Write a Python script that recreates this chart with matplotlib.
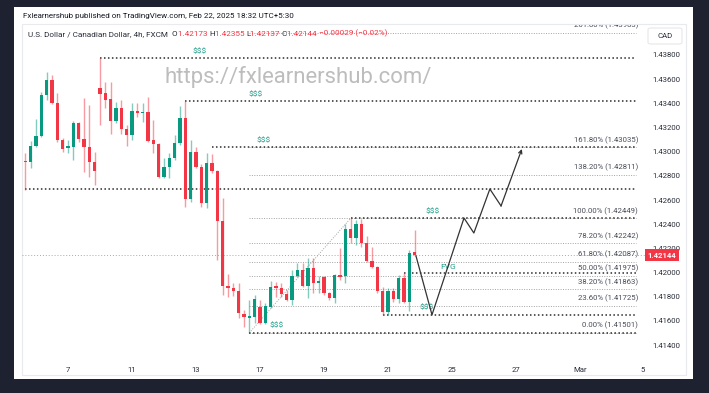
import numpy as np
import matplotlib.pyplot as plt
from matplotlib.patches import Rectangle, FancyBboxPatch
from matplotlib.transforms import blended_transform_factory, Bbox

W, H = 709, 393
DPI = 100
plt.rcParams['font.family'] = ['Roboto', 'DejaVu Sans']

BG = "#1d2130"
UP = "#089981"
DOWN = "#f23645"
TXT = "#2a2e39"
TAG = "#1f9e89"

# 4h bars, index 0 = Feb 7 00:00
bar_idx = np.arange(-8, 66)
opens = [1.42919, 1.42915, 1.43047, 1.43130, 1.43469, 1.43593, 1.43403, 1.43097, 1.43031, 1.43039,
         1.43237, 1.43105, 1.43039, 1.42915, 1.43527, 1.43486, 1.43436, 1.43254, 1.43362, 1.43188,
         1.43138, 1.43337, 1.43320, 1.43329, 1.43097, 1.43064, 1.42790, 1.42873, 1.42948, 1.43072,
         1.43279, 1.42609, 1.42997, 1.42873, 1.42575, 1.42906, 1.42840, 1.42426, 1.41889, 1.41872,
         1.41848, 1.41658, 1.41625, 1.41633, 1.41716, 1.41583, 1.41716, 1.41889, 1.41872, 1.41823,
         1.41773, 1.41971, 1.42021, 1.41889, 1.42037, 1.41914, 1.41963, 1.41831, 1.41790, 1.41980,
         1.41971, 1.42360, 1.42286, 1.42402, 1.42244, 1.42096, 1.42046, 1.41848, 1.41674, 1.41848,
         1.41782, 1.41955, 1.41757, 1.42173]
highs = [1.42989, 1.43088, 1.43270, 1.43494, 1.43659, 1.43634, 1.43486, 1.43113, 1.43097, 1.43254,
         1.43245, 1.43444, 1.43386, 1.42997, 1.43775, 1.43577, 1.43577, 1.43411, 1.43428, 1.43221,
         1.43403, 1.43403, 1.43403, 1.43452, 1.43262, 1.43072, 1.42948, 1.42989, 1.43138, 1.43378,
         1.43419, 1.43097, 1.43039, 1.42898, 1.42989, 1.42981, 1.42848, 1.42617, 1.41988, 1.41914,
         1.41914, 1.41691, 1.41773, 1.41815, 1.41773, 1.41749, 1.41930, 1.41922, 1.41914, 1.41856,
         1.42021, 1.42079, 1.42079, 1.42121, 1.42121, 1.41971, 1.41971, 1.41839, 1.41988, 1.42203,
         1.42402, 1.42449, 1.42435, 1.42443, 1.42302, 1.42211, 1.42054, 1.41881, 1.41872, 1.41872,
         1.41980, 1.41996, 1.42186, 1.42355]
lows = [1.42683, 1.42865, 1.43039, 1.43121, 1.43428, 1.43395, 1.43080, 1.42997, 1.42989, 1.42931,
        1.43080, 1.42832, 1.42790, 1.42724, 1.43221, 1.43362, 1.43146, 1.43237, 1.43146, 1.43047,
        1.43097, 1.43287, 1.43245, 1.43080, 1.42989, 1.42782, 1.42782, 1.42782, 1.42931, 1.43055,
        1.42542, 1.42584, 1.42865, 1.42542, 1.42534, 1.42823, 1.42104, 1.41815, 1.41798, 1.41806,
        1.41625, 1.41550, 1.41501, 1.41583, 1.41575, 1.41575, 1.41707, 1.41798, 1.41798, 1.41765,
        1.41732, 1.41963, 1.41881, 1.41790, 1.41831, 1.41831, 1.41815, 1.41773, 1.41749, 1.41938,
        1.41914, 1.42244, 1.42228, 1.42211, 1.42087, 1.42037, 1.41831, 1.41650, 1.41650, 1.41757,
        1.41749, 1.41749, 1.41683, 1.42137]
closes = [1.42911, 1.43047, 1.43130, 1.43469, 1.43593, 1.43403, 1.43097, 1.43022, 1.43047, 1.43237,
          1.43105, 1.43039, 1.42915, 1.42840, 1.43477, 1.43428, 1.43254, 1.43362, 1.43188, 1.43138,
          1.43337, 1.43320, 1.43329, 1.43088, 1.43064, 1.42790, 1.42873, 1.42948, 1.43072, 1.43279,
          1.42609, 1.42997, 1.42873, 1.42575, 1.42906, 1.42840, 1.42426, 1.41889, 1.41872, 1.41848,
          1.41666, 1.41633, 1.41641, 1.41782, 1.41583, 1.41724, 1.41881, 1.41872, 1.41823, 1.41773,
          1.41971, 1.42021, 1.41889, 1.42037, 1.41914, 1.41930, 1.41831, 1.41790, 1.41980, 1.41963,
          1.42360, 1.42286, 1.42402, 1.42244, 1.42096, 1.42046, 1.41848, 1.41674, 1.41848, 1.41782,
          1.41955, 1.41757, 1.42162, 1.42144]

last_price = 1.42144

# fibonacci levels (ratio label, price) drawn from the swing low bar
fib_labels = ["0.00%", "23.60%", "38.20%", "50.00%", "61.80%", "78.20%",
              "100.00%", "138.20%", "161.80%", "261.80%"]
fib_prices = [1.41501, 1.41725, 1.41863, 1.41975, 1.42087, 1.42242,
              1.42449, 1.42811, 1.43035, 1.43983]
fib_start = 34
fib_anchor_bars = [34, 53]
fib_anchor_prices = [1.41501, 1.42449]

# liquidity lines (black dotted)
liq_start = [6, 22, 27, -8, 53, 63, 59, 34]
liq_prices = [1.43775, 1.43419, 1.43035, 1.42691, 1.42449, 1.41996, 1.41650, 1.41501]
line_end = 106.5

# "$$$" tags
tag_bars = [24.75, 35.25, 36.6, 68.4, 39.2, 67.3]
tag_prices = [1.43775, 1.43419, 1.43035, 1.42449, 1.41501, 1.41650]

# projected path
path_bars = [65.25, 68.25, 74.25, 76.1, 79.1, 81.2, 85.1]
path_prices = [1.42137, 1.41650, 1.42451, 1.42327, 1.42691, 1.42551, 1.43022]

price_ticks = np.round(np.arange(1.414, 1.4381, 0.002), 3)
time_ticks = [0, 12, 24, 36, 48, 60, 72, 84, 96, 108]
time_labels = ["7", "11", "13", "17", "19", "21", "25", "27", "Mar", "5"]


def fx(px):
    return px / W


def fy(py):
    return 1 - py / H


fig = plt.figure(figsize=(W / DPI, H / DPI), dpi=DPI)
fig.patch.set_facecolor(BG)

# white card and inner frame
fig.patches.append(Rectangle((fx(14), fy(379)), fx(693) - fx(14), fy(7) - fy(379),
                             transform=fig.transFigure, facecolor="white", edgecolor="none", zorder=-2))
fig.patches.append(Rectangle((fx(22), fy(375)), fx(686) - fx(22), fy(24) - fy(375),
                             transform=fig.transFigure, facecolor="none", edgecolor="#e9eaee",
                             lw=0.8, zorder=-1))

ax = fig.add_axes([fx(22), fy(360), fx(645) - fx(22), fy(27) - fy(360)])
ax.set_zorder(2)
ax.set_facecolor("none")
ax.set_xlim(-8.625, 108.19)
ax.set_ylim(1.412761, 1.440317)
for s in ax.spines.values():
    s.set_visible(False)

# watermark
ax.text(43.1, 1.43618, "https://fxlearnershub.com/", fontsize=15.9, color="#bdbdbd",
        ha="center", va="center", zorder=1)

# current price line
ax.axhline(last_price, color=DOWN, lw=0.7, ls=(0, (1, 2)), alpha=0.6, zorder=1)

# fib levels (labels clipped at the chart frame top)
frame_clip = Bbox([[0, 0], [645, H - 24.5]])
for lab, p in zip(fib_labels, fib_prices):
    ax.plot([fib_start, line_end], [p, p], color="#a3a3a3", lw=0.7, ls=(0, (1, 1.5)), zorder=2)
    t = ax.annotate(f"{lab} ({p:.5f})", (106.9, p), xytext=(0, 5.3), textcoords="offset points",
                    ha="right", va="center", fontsize=5.6, color="#4a4e59",
                    annotation_clip=False, zorder=3)
    t.set_clip_box(frame_clip)
    t.set_clip_on(True)
ax.plot(fib_anchor_bars, fib_anchor_prices, color="#a3a3a3", lw=0.7, ls=(0, (1, 1.5)), zorder=2)

# liquidity lines
for b, p in zip(liq_start, liq_prices):
    ax.plot([b, line_end], [p, p], color="#2b2b2b", lw=1.1, ls=(0, (1, 1.6)), zorder=3)

for b, p in zip(tag_bars, tag_prices):
    ax.annotate("$$$", (b, p), xytext=(0, 5.2), textcoords="offset points",
                ha="center", va="center", fontsize=6, color=TAG, zorder=4)
ax.text(71.25, 1.42046, "FVG", fontsize=6, color=TAG, ha="center", va="center", zorder=4)

# candles
for i, o, h, l, c in zip(bar_idx, opens, highs, lows, closes):
    col = UP if c >= o else DOWN
    ax.vlines(i, l, h, color=col, lw=1.0, alpha=0.5, zorder=5)
    ax.bar(i, max(abs(c - o), 0.00003), bottom=min(o, c), width=0.68, color=col, zorder=6)

# projection path
ax.plot(path_bars[:-1], path_prices[:-1], color="#333333", lw=0.9, zorder=7)
ax.annotate("", xy=(path_bars[-1], path_prices[-1]), xytext=(path_bars[-2], path_prices[-2]),
            arrowprops=dict(arrowstyle="->", color="#333333", lw=0.9, shrinkA=0, shrinkB=0,
                            mutation_scale=6), zorder=7)

# axes ticks
ax.yaxis.tick_right()
ax.set_yticks(price_ticks)
ax.set_yticklabels([f"{p:.5f}" for p in price_ticks])
ax.tick_params(axis="y", length=0, pad=5, labelsize=5.6, labelcolor=TXT)
ax.set_xticks(time_ticks[:-1])
ax.set_xticklabels(time_labels[:-1])
ax.tick_params(axis="x", length=0, pad=5, labelsize=5.6, labelcolor=TXT)
# last date label is cut by the price scale
t5 = ax.text(time_ticks[-1] - 0.2, -0.031, time_labels[-1],
             transform=blended_transform_factory(ax.transData, ax.transAxes),
             ha="center", va="center", fontsize=5.6, color=TXT)
t5.set_clip_box(Bbox([[0, 0], [644.5, H]]))
t5.set_clip_on(True)

# last price tag
ax.text(1.004, last_price, f"{last_price:.5f}",
        transform=blended_transform_factory(ax.transAxes, ax.transData),
        ha="left", va="center", fontsize=5.6, color="white", fontweight="bold",
        bbox=dict(boxstyle="square,pad=0.35", fc=DOWN, ec="none"))

# CAD box
fig.patches.append(FancyBboxPatch((fx(648), fy(44)), fx(682) - fx(648), fy(28) - fy(44),
                                  boxstyle="round,pad=0,rounding_size=0.004", transform=fig.transFigure,
                                  facecolor="white", edgecolor="#e3e4e8", lw=0.7, zorder=3))
fig.text(fx(665), fy(36), "CAD", fontsize=5.6, color=TXT, ha="center", va="center", zorder=4)

# titles
fig.text(fx(23), fy(16), "Fxlearnershub published on TradingView.com, Feb 22, 2025 18:32 UTC+5:30",
         fontsize=5.8, color="#131722", va="center")
pieces = [("U.S. Dollar / Canadian Dollar, 4h, FXCM  ", TXT), ("O", TXT), ("1.42173 ", DOWN),
          ("H", TXT), ("1.42355 ", DOWN), ("L", TXT), ("1.42137 ", DOWN), ("C", TXT),
          ("1.42144 ", DOWN), ("\u22120.00029 (\u22120.02%)", DOWN)]
prev = ax.text(fx(28), fy(34), pieces[0][0], transform=fig.transFigure,
               fontsize=5.85, color=pieces[0][1], va="center", zorder=8)
for txt, col in pieces[1:]:
    prev = ax.annotate(txt, xy=(1, 0), xycoords=prev, va="bottom", fontsize=5.85, color=col,
                       annotation_clip=False, zorder=8)

fig.savefig("out.png", dpi=DPI, facecolor=BG)
